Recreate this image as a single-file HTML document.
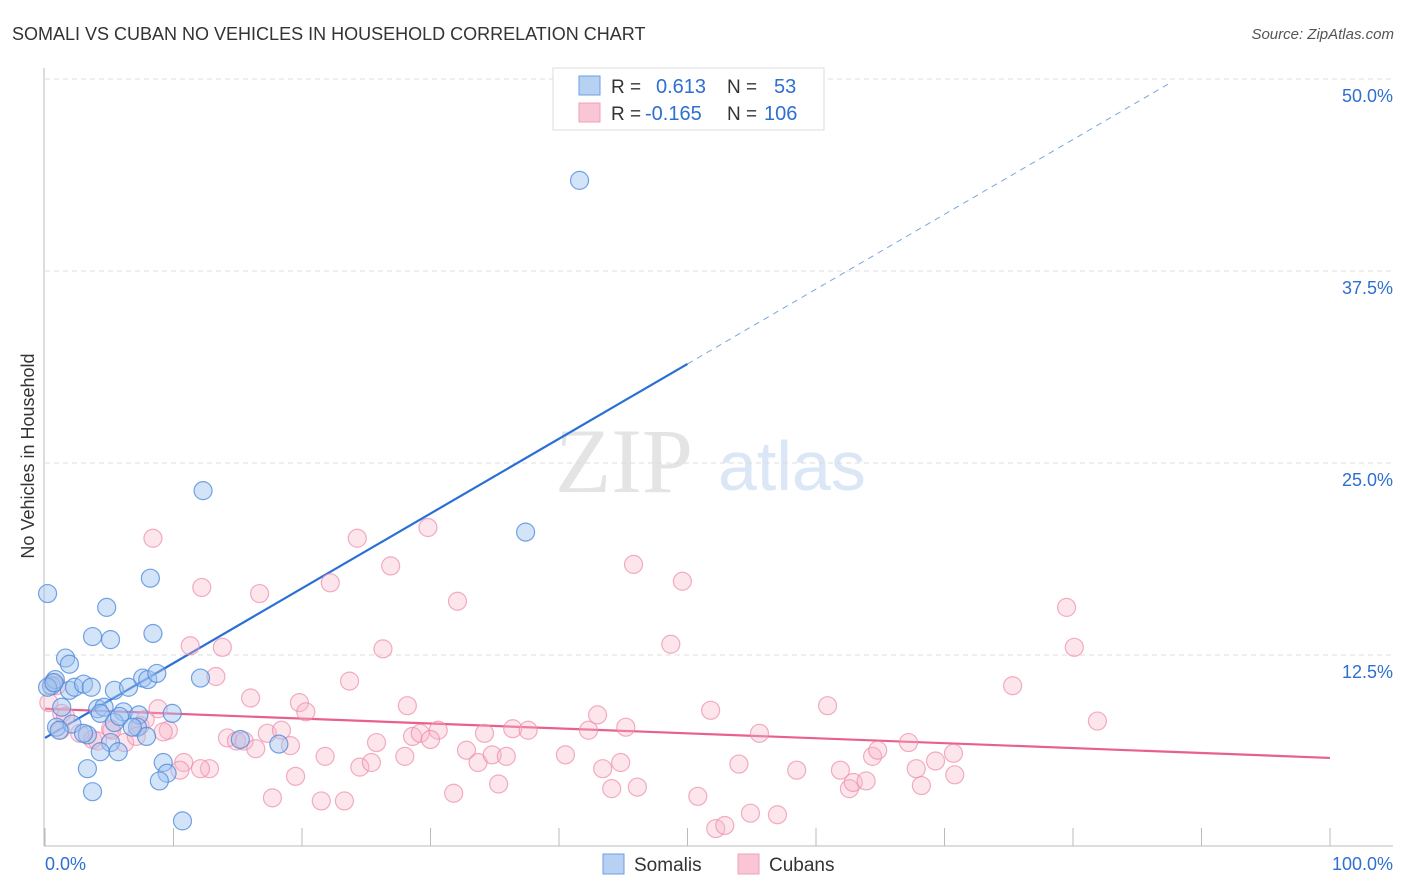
<!DOCTYPE html>
<html><head><meta charset="utf-8"><style>
body{margin:0;background:#fff;font-family:"Liberation Sans",sans-serif}
svg{display:block}
</style></head><body>
<svg width="1406" height="892" xmlns="http://www.w3.org/2000/svg">
<text x="12" y="40" font-size="18" fill="#333">SOMALI VS CUBAN NO VEHICLES IN HOUSEHOLD CORRELATION CHART</text>
<text x="1394" y="39" font-size="15" fill="#555" font-style="italic" text-anchor="end">Source: ZipAtlas.com</text>
<text x="34" y="456" font-size="18" fill="#333" text-anchor="middle" transform="rotate(-90 34 456)">No Vehicles in Household</text>
<g>
<text x="555" y="492" font-size="92" font-family="Liberation Serif,serif" fill="#e4e4e4">ZIP</text>
<text x="718" y="490" font-size="70" fill="#dbe7f6">atlas</text>
</g>
<g id="grid"></g><g id="axes"></g><g id="lines"></g><g id="pts"></g>
<g>
<rect x="553" y="68" width="271" height="62" fill="#fff" stroke="#ddd"/>
<rect x="579" y="76" width="21" height="19" fill="#b7d1f3" stroke="#6a9fe0"/>
<rect x="579" y="103" width="21" height="19" fill="#f8c6d4" stroke="#f0a0b8"/>
<text x="611" y="93" font-size="19" fill="#333">R =</text><text x="656" y="93" font-size="20" fill="#2e6fd0">0.613</text>
<text x="727" y="93" font-size="19" fill="#333">N =</text><text x="774" y="93" font-size="20" fill="#2e6fd0">53</text>
<text x="611" y="120" font-size="19" fill="#333">R =</text><text x="645" y="120" font-size="20" fill="#2e6fd0">-0.165</text>
<text x="727" y="120" font-size="19" fill="#333">N =</text><text x="764" y="120" font-size="20" fill="#2e6fd0">106</text>
</g>
<g>
<rect x="603" y="854" width="21" height="20" fill="#b7d1f3" stroke="#6a9fe0"/>
<text x="634" y="871" font-size="19" fill="#333">Somalis</text>
<rect x="738" y="854" width="21" height="20" fill="#f8c6d4" stroke="#f0a0b8"/>
<text x="769" y="871" font-size="19" fill="#333">Cubans</text>
</g>
</svg>
<script>
const NS='http://www.w3.org/2000/svg';
const yTicks=[12.5,25,37.5,50];
const yTickLabels=['12.5%','25.0%','37.5%','50.0%'];
const xTicks=[0,10,20,30,40,50,60,70,80,90,100];
const xLabels=['0.0%','100.0%'];
const somaliX=[0.2,41.6,12.3,37.4,8.2,4.8,3.7,5.1,8.4,1.6,1.9,0.5,0.8,1.9,2.3,3.0,3.6,5.4,6.5,7.6,8.0,8.7,12.1,1.3,4.1,4.6,6.1,7.3,9.9,0.9,2.1,3.3,4.3,5.4,5.8,7.2,7.9,6.8,15.2,18.2,5.1,4.3,5.7,3.3,9.2,9.5,8.9,3.7,10.7,1.1,3.0,0.2,0.7];
const somaliY=[16.5,43.4,23.2,20.5,17.5,15.6,13.7,13.5,13.9,12.3,11.9,10.5,10.9,10.2,10.4,10.6,10.4,10.2,10.4,11.0,10.9,11.3,11.0,9.1,9.0,9.1,8.8,8.6,8.7,7.8,8.0,7.3,8.7,8.1,8.5,7.8,7.2,7.8,7.0,6.7,6.8,6.2,6.2,5.1,5.5,4.8,4.3,3.6,1.7,7.6,7.4,10.4,10.7];
const cubanX=[8.4,24.3,29.8,26.9,45.8,49.6,22.2,12.2,16.7,32.1,79.5,80.1,48.7,11.3,13.8,26.3,23.7,13.3,75.3,16.0,19.8,20.3,28.2,60.9,51.8,43.0,81.9,45.2,8.8,0.6,0.9,1.3,1.6,2.7,3.7,4.1,5.1,6.2,7.4,7.8,9.6,10.8,12.8,12.1,14.2,14.9,15.5,16.4,17.3,18.4,19.1,21.8,19.5,17.7,21.5,23.3,24.5,25.4,25.8,28.0,28.6,29.2,30.6,32.8,33.7,34.8,35.9,34.2,36.4,37.6,40.5,42.3,43.4,44.1,44.8,46.1,35.3,31.8,50.8,52.2,52.9,54.9,57.0,54.0,55.6,58.5,61.9,62.6,62.9,63.9,64.4,64.8,67.2,67.8,68.2,69.3,70.7,70.8,0.3,1.2,5.2,7.1,9.2,30.0,10.5];
const cubanY=[20.1,20.1,20.8,18.3,18.4,17.3,17.2,16.9,16.5,16.0,15.6,13.0,13.2,13.1,13.0,12.9,10.8,11.1,10.5,9.7,9.4,8.8,9.2,9.2,8.9,8.6,8.2,7.8,9.0,10.7,10.5,8.7,8.5,7.4,7.0,6.9,7.7,6.8,7.9,8.3,7.6,5.5,5.1,5.1,7.1,6.9,6.9,6.4,7.4,7.6,6.6,5.9,4.6,3.2,3.0,3.0,5.2,5.5,6.8,5.9,7.2,7.4,7.6,6.3,5.5,6.0,5.9,7.4,7.7,7.6,6.0,7.6,5.1,3.8,5.5,3.9,4.1,3.5,3.3,1.2,1.4,2.2,2.1,5.4,7.4,5.0,5.0,3.8,4.2,4.3,5.9,6.3,6.8,5.1,4.0,5.6,6.1,4.7,9.4,7.6,7.6,7.2,7.5,7.0,5.0];
const somaliTrend=[7.1,0.487]; // intercept, slope
const somaliSolidEnd=50, somaliDashEnd=87.5;
const cubanTrend=[9.0,-0.032];
const X0=45,X1=1330,Y0=847,YPX=15.36;
const sx=v=>X0+(X1-X0)*v/100, sy=v=>Y0-v*YPX;
function mk(tag,attrs,parent){const e=document.createElementNS(NS,tag);for(const k in attrs)e.setAttribute(k,attrs[k]);document.getElementById(parent).appendChild(e);return e;}
yTicks.forEach((t,i)=>{
 const g=mk('line',{x1:45,x2:1393,y1:sy(t),y2:sy(t),stroke:'#ddd','stroke-dasharray':'5,4'},'grid');
 
 
 const l=mk('text',{x:1393,y:sy(t)+23,'font-size':18,fill:'#2e6fd0','text-anchor':'end'},'grid');
 l.textContent=yTickLabels[i];
 
 
});
const ax=mk('line',{x1:44,x2:44,y1:68,y2:846,stroke:'#bbb'},'axes');


const bx=mk('line',{x1:44,x2:1393,y1:846,y2:846,stroke:'#bbb'},'axes');


xTicks.forEach(t=>{
 const k=mk('line',{x1:sx(t),x2:sx(t),y1:828,y2:846,stroke:'#bbb'},'axes');
 
 
});
[[0,'start',45],[100,'end',1393]].forEach((a,i)=>{
 const t=mk('text',{x:a[2],y:870,'font-size':18,fill:'#2e6fd0','text-anchor':a[1]},'axes');
 t.textContent=xLabels[i];
 
 
});
cubanX.forEach((x,i)=>{
 const c=mk('circle',{cx:sx(x),cy:sy(cubanY[i]),r:9,fill:'rgba(248,180,200,0.35)',stroke:'rgba(236,140,170,0.7)','stroke-width':1.2},'pts');
 
 
});
somaliX.forEach((x,i)=>{
 const c=mk('circle',{cx:sx(x),cy:sy(somaliY[i]),r:9,fill:'rgba(160,196,240,0.45)',stroke:'rgba(80,140,220,0.8)','stroke-width':1.2},'pts');
 
 
});
const f=(tr,x)=>tr[0]+tr[1]*x;
const l1=mk('line',{x1:sx(0),y1:sy(f(somaliTrend,0)),x2:sx(somaliSolidEnd),y2:sy(f(somaliTrend,somaliSolidEnd)),stroke:'#2a6fd6','stroke-width':2.2},'lines');


const l2=mk('line',{x1:sx(somaliSolidEnd),y1:sy(f(somaliTrend,somaliSolidEnd)),x2:sx(somaliDashEnd),y2:sy(f(somaliTrend,somaliDashEnd)),stroke:'#7aa6e0','stroke-width':1,'stroke-dasharray':'6,5'},'lines');


const l3=mk('line',{x1:sx(0),y1:sy(f(cubanTrend,0)),x2:sx(100),y2:sy(f(cubanTrend,100)),stroke:'#e8608e','stroke-width':2.2},'lines');


</script>
</body></html>
